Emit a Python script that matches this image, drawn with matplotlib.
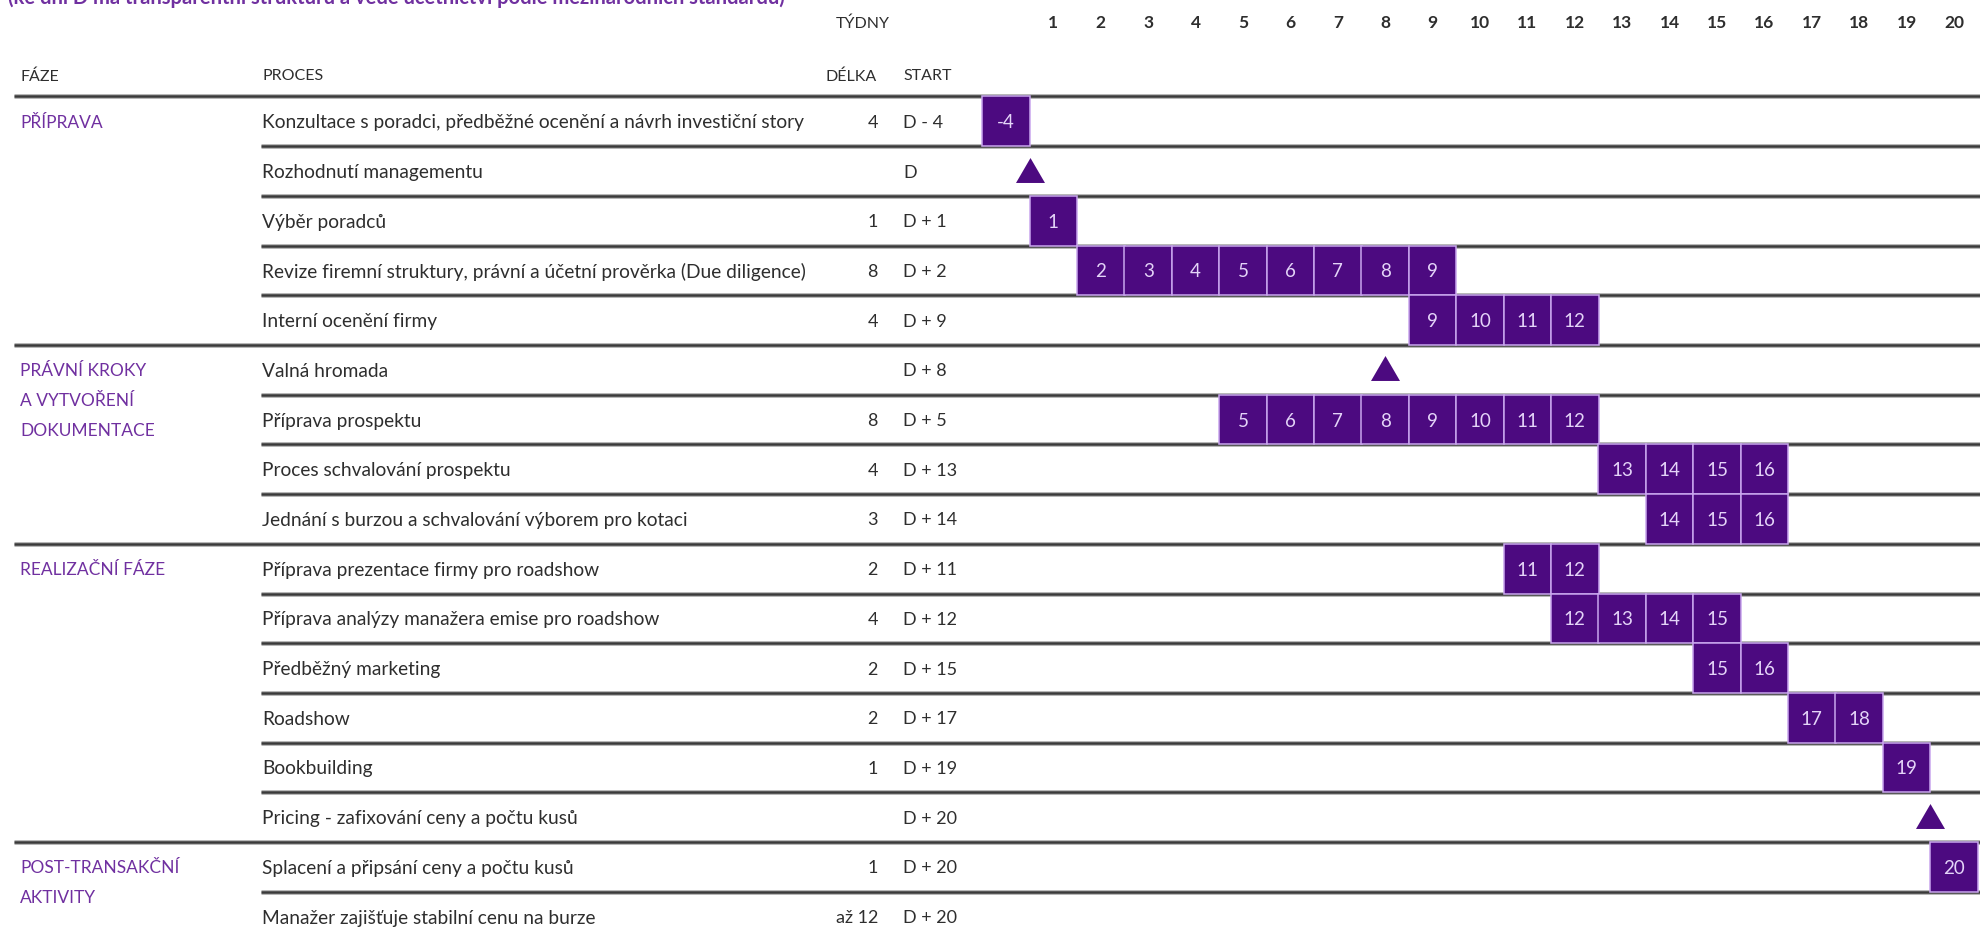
import matplotlib
matplotlib.use("Agg")
import matplotlib.pyplot as plt
from matplotlib import font_manager
from matplotlib.patches import Rectangle

# ---------------------------------------------------------------- data
subtitle = "(ke dni D má transparentní strukturu a vede účetnictví podle mezinárodních standardů)"

phase_labels = [
    ["PŘÍPRAVA"],
    ["PRÁVNÍ KROKY", "A VYTVOŘENÍ", "DOKUMENTACE"],
    ["REALIZAČNÍ FÁZE"],
    ["POST-TRANSAKČNÍ", "AKTIVITY"],
]
phase_first_row = [0, 5, 9, 15]

processes = [
    "Konzultace s poradci, předběžné ocenění a návrh investiční story",
    "Rozhodnutí managementu",
    "Výběr poradců",
    "Revize firemní struktury, právní a účetní prověrka (Due diligence)",
    "Interní ocenění firmy",
    "Valná hromada",
    "Příprava prospektu",
    "Proces schvalování prospektu",
    "Jednání s burzou a schvalování výborem pro kotaci",
    "Příprava prezentace firmy pro roadshow",
    "Příprava analýzy manažera emise pro roadshow",
    "Předběžný marketing",
    "Roadshow",
    "Bookbuilding",
    "Pricing - zafixování ceny a počtu kusů",
    "Splacení a připsání ceny a počtu kusů",
    "Manažer zajišťuje stabilní cenu na burze",
]
durations = ["4", "", "1", "8", "4", "", "8", "4", "3", "2", "4", "2", "2",
             "1", "", "1", "až 12"]
starts = ["D - 4", "D", "D + 1", "D + 2", "D + 9", "D + 8", "D + 5", "D + 13",
          "D + 14", "D + 11", "D + 12", "D + 15", "D + 17", "D + 19",
          "D + 20", "D + 20", "D + 20"]

weeks = list(range(1, 21))

# week blocks: row index, first week, number of weeks
bar_rows = [0, 2, 3, 4, 6, 7, 8, 9, 10, 11, 12, 13, 15]
bar_start = [0, 1, 2, 9, 5, 13, 14, 11, 12, 15, 17, 19, 20]
bar_len = [1, 1, 8, 4, 8, 4, 3, 2, 4, 2, 2, 1, 1]
cell_label_override = {0: "-4"}   # the pre-D block is labelled by its offset

# milestones: row index and position on the week axis (week w spans [w-1, w])
milestone_rows = [1, 5, 14]
milestone_x = [0.0, 7.5, 19.0]

# ---------------------------------------------------------------- style
names = {f.name for f in font_manager.fontManager.ttflist}
FONT = "Lato" if "Lato" in names else "DejaVu Sans"
plt.rcParams["font.family"] = [FONT, "DejaVu Sans"]

PURPLE = "#4c0a80"
PHASE = "#7030a0"
CELL_EDGE = "#c9a6ee"
CELL_TEXT = "#e4d4f8"
TEXT = "#2e2e2e"
LINE = "#3a3a3a"

W, H = 1980, 938
DPI = 100
ROW_PX = 49.7          # row pitch in pixels
TOP_PX = 96.5          # first rule under the header
WEEK0_PX = 1029.7      # left edge of week 1
WEEK_PX = 47.4         # one week in pixels


def row_y(px):
    """pixel height -> row units"""
    return (px - TOP_PX) / ROW_PX


fig = plt.figure(figsize=(W / DPI, H / DPI), dpi=DPI)
fig.patch.set_facecolor("white")

# table axes: x in pixels, y in rows
ax = fig.add_axes([0, 0, 1, 1])
ax.set_xlim(0, W)
ax.set_ylim(row_y(H), row_y(0))
ax.axis("off")

# gantt axes: x in weeks, y in rows
gx = fig.add_axes([0, 0, 1, 1], sharey=ax)
gx.set_xlim(-WEEK0_PX / WEEK_PX, (W - WEEK0_PX) / WEEK_PX)
gx.patch.set_alpha(0)
gx.axis("off")

n_rows = len(processes)

# ---------------------------------------------------------------- rules
phase_bounds = set(phase_first_row)
for b in range(n_rows):
    x0 = 14 if b in phase_bounds else 261
    ax.plot([x0, W], [b, b], color="#b8b8b8", lw=3.6, solid_capstyle="butt",
            zorder=1)
    ax.plot([x0, W], [b, b], color=LINE, lw=1.8, solid_capstyle="butt",
            zorder=2)

# ---------------------------------------------------------------- header
ax.text(8, row_y(4.0), subtitle, color=PHASE, fontsize=14.5,
        fontweight="bold", ha="left", va="baseline")
ax.text(836, row_y(22), "TÝDNY", color=TEXT, fontsize=11.5, ha="left",
        va="center_baseline")
hy = row_y(75)
ax.text(20, hy, "FÁZE", color=TEXT, fontsize=11.5, ha="left",
        va="center_baseline")
ax.text(262, hy, "PROCES", color=TEXT, fontsize=11.5, ha="left",
        va="center_baseline")
ax.text(877, hy, "DÉLKA", color=TEXT, fontsize=11.5, ha="right",
        va="center_baseline")
ax.text(903, hy, "START", color=TEXT, fontsize=11.5, ha="left",
        va="center_baseline")
for w in weeks:
    gx.text(w - 0.5, row_y(22), str(w), color=TEXT, fontsize=12.5,
            fontweight="bold", ha="center", va="center_baseline")

# ---------------------------------------------------------------- table body
for lines, r in zip(phase_labels, phase_first_row):
    for j, s in enumerate(lines):
        ax.text(20, r + 0.5 + j * 0.6, s, color=PHASE, fontsize=12.5,
                ha="left", va="center_baseline")

for i, (p, d, s) in enumerate(zip(processes, durations, starts)):
    yc = i + 0.5
    ax.text(262, yc, p, color=TEXT, fontsize=13.8, ha="left",
            va="center_baseline")
    if d:
        ax.text(878, yc, d, color=TEXT, fontsize=13, ha="right",
                va="center_baseline")
    ax.text(903, yc, s, color=TEXT, fontsize=13, ha="left",
            va="center_baseline")

# ---------------------------------------------------------------- gantt
for r, s0, n in zip(bar_rows, bar_start, bar_len):
    for w in range(s0, s0 + n):
        gx.add_patch(Rectangle((w - 1, r), 1, 1, facecolor=PURPLE,
                               edgecolor=CELL_EDGE, lw=1.1, zorder=3))
        gx.text(w - 0.5, r + 0.5, cell_label_override.get(w, str(w)),
                color=CELL_TEXT, fontsize=13.5, ha="center",
                va="center_baseline", zorder=4)

tri = [(-1, -0.86), (1, -0.86), (0, 0.86)]
gx.scatter(milestone_x, [r + 0.47 for r in milestone_rows], marker=tri,
           s=29 ** 2 * (72 / DPI) ** 2, color=PURPLE, linewidths=0,
           zorder=4)

fig.savefig("out.png", dpi=DPI, facecolor="white")
